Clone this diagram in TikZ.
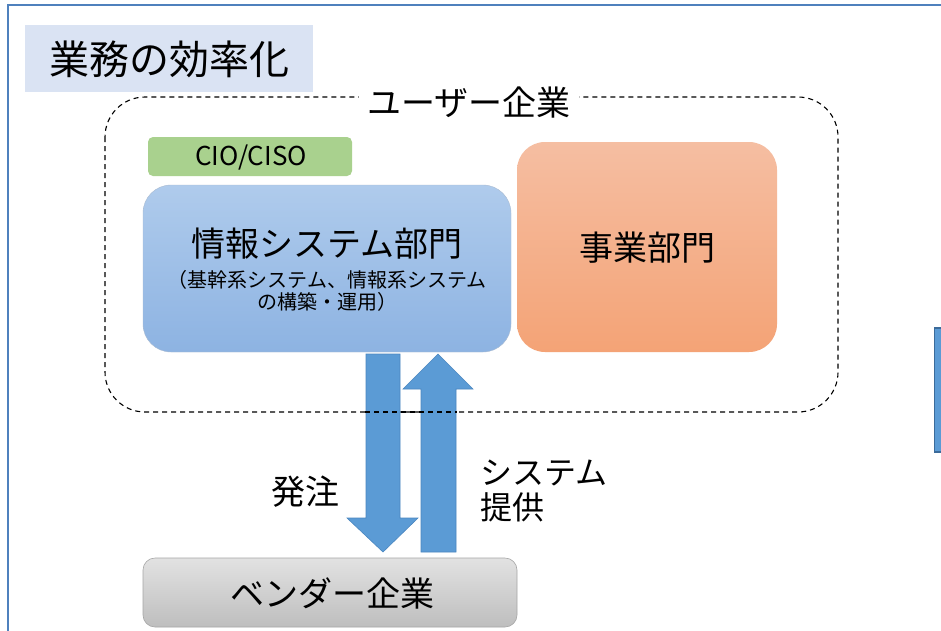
\documentclass[tikz,border=0pt]{standalone}
\usepackage{fontspec}
\setmainfont{Noto Sans CJK JP}
\usetikzlibrary{positioning}
\definecolor{frameblue}{HTML}{4F81BD}
\definecolor{titlebg}{HTML}{DAE3F3}
\definecolor{cioGreen}{HTML}{A9D18E}
\definecolor{arrowblue}{HTML}{5B9BD5}
\definecolor{arrowedge}{HTML}{4A86C0}
\definecolor{infoTop}{HTML}{AFCBEC}
\definecolor{infoBot}{HTML}{8DB3E2}
\definecolor{bizTop}{HTML}{F5BEA2}
\definecolor{bizBot}{HTML}{F4A376}
\definecolor{venTop}{HTML}{E2E2E2}
\definecolor{venBot}{HTML}{BEBEBE}
\newcommand{\fs}[1]{\fontsize{#1}{#1}\selectfont}
\tikzset{
  boxtext/.style={text=black, inner sep=0pt, align=center},
  blockarrow/.style={fill=arrowblue, draw=arrowedge, line width=0.6pt},
  userframe/.style={line width=1.1pt, dash pattern=on 5pt off 4pt},
}
\begin{document}
\begin{tikzpicture}[x=1pt,y=-1pt]
\useasboundingbox (0,0) rectangle (941,630);
\fill[white] (0,0) rectangle (941,630);
\begin{scope}
\clip (0,0) rectangle (941,630);
\draw[frameblue, line width=2.5pt] (8,5) rectangle (980,680);
\end{scope}
% title
\fill[titlebg] (25,25) rectangle (313,92);
\node[boxtext, anchor=center] (title) at (169,59) {\fs{40}業務の効率化};
% user enterprise dashed frame
\draw[userframe, rounded corners=40pt] (105,97) rectangle (838,412);
\node[boxtext, fill=white, inner xsep=8pt, inner ysep=2pt] (user) at (469,103) {\fs{34}ユーザー企業};
% CIO box
\fill[cioGreen, rounded corners=5pt] (148,137) rectangle (352,176);
\node[boxtext] (cio) at (251,157) {\fs{26}CIO/CISO};
% info system dept
\shade[top color=infoTop, bottom color=infoBot, rounded corners=28pt] (143,185) rectangle (511,352);
\draw[infoBot!80!black!60, line width=0.4pt, rounded corners=28pt] (143,185) rectangle (511,352);
\node[boxtext] (info) at (327,244) {\fs{34}情報システム部門};
\node[boxtext, below=10pt of info] (infosub) {\fs{20}（基幹系システム、情報系システム\\[2pt]\fs{20}の構築・運用）};
% business dept
\shade[top color=bizTop, bottom color=bizBot, rounded corners=28pt] (517,142) rectangle (777,352);
\node[boxtext] (biz) at (647,248) {\fs{34}事業部門};
% vendor
\shade[top color=venTop, bottom color=venBot, rounded corners=12pt] (143,558) rectangle (517,627);
\draw[gray!70, line width=0.6pt, rounded corners=12pt] (143,558) rectangle (517,627);
\node[boxtext] (vendor) at (332,593) {\fs{34}ベンダー企業};
% arrows
\draw[blockarrow] (366,354) -- (400,354) -- (400,518) -- (418,518) -- (383,552) -- (347,518) -- (366,518) -- cycle;
\draw[blockarrow] (421,552) -- (456,552) -- (456,389) -- (473,389) -- (438,354) -- (403,389) -- (421,389) -- cycle;
% dashed frame line visible over the arrows
\draw[userframe] (365,412) -- (457,412);
\node[boxtext] (order) at (305,492) {\fs{34}発注};
\node[boxtext, anchor=west, align=left] (supply) at (480,491) {\fs{32}システム\\[6pt]\fs{32}提供};
% right bar
\fill[arrowblue] (934,328) rectangle (945,452);
\draw[arrowedge!80!black, line width=1.5pt] (934.5,328) rectangle (950,452);
\end{tikzpicture}
\end{document}
